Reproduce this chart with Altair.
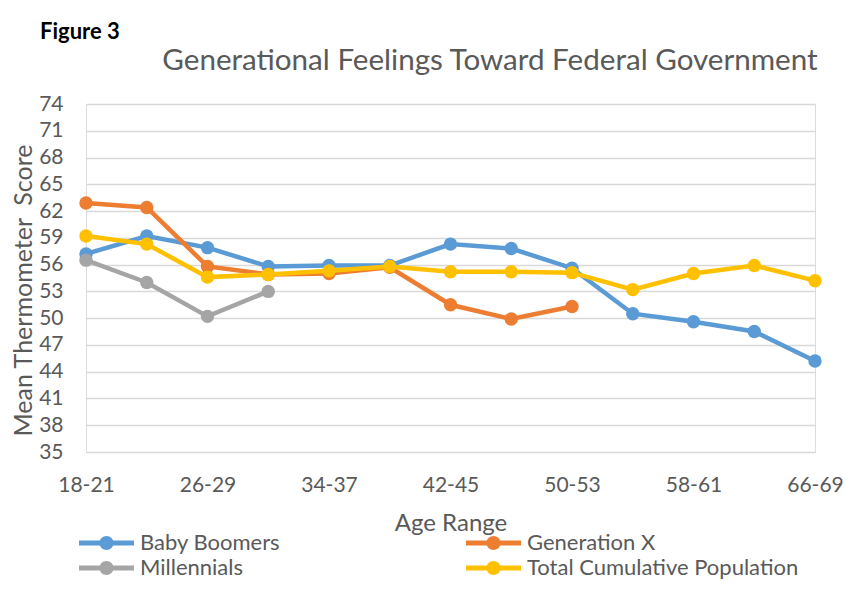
import altair as alt
import pandas as pd

age_ranges = ["18-21", "22-25", "26-29", "30-33", "34-37", "38-41", "42-45",
              "46-49", "50-53", "54-57", "58-61", "62-65", "66-69"]
baby_boomers = [57.2, 59.2, 57.9, 55.8, 55.9, 55.9, 58.3, 57.8, 55.6, 50.5, 49.6, 48.5, 45.2]
generation_x = [62.9, 62.4, 55.8, 54.9, 55.0, 55.7, 51.5, 49.9, 51.3, None, None, None, None]
millennials = [56.5, 54.0, 50.2, 53.0, None, None, None, None, None, None, None, None, None]
total_population = [59.2, 58.3, 54.6, 54.9, 55.3, 55.8, 55.2, 55.2, 55.1, 53.2, 55.0, 55.9, 54.2]

series_names = ["Baby Boomers", "Generation X", "Millennials", "Total Cumulative Population"]
series_values = [baby_boomers, generation_x, millennials, total_population]
series_colors = ["#5B9BD5", "#ED7D31", "#A5A5A5", "#FFC000"]

y_ticks = list(range(35, 75, 3))
x_tick_labels = age_ranges[::2]

FONT = "Lato"
GRAY = "#595959"

rows = []
for name, vals in zip(series_names, series_values):
    for age, v in zip(age_ranges, vals):
        if v is not None:
            rows.append({"series": name, "age": age, "score": v})
df = pd.DataFrame(rows)

x_enc = alt.X(
    "age:O", sort=age_ranges,
    scale=alt.Scale(type="point", padding=0),
    axis=alt.Axis(values=x_tick_labels, labelAngle=0, title="Age Range",
                  labelFont=FONT, labelFontSize=21, labelColor=GRAY, labelPadding=22,
                  titleFont=FONT, titleFontSize=24, titleFontWeight="normal", titleColor=GRAY,
                  titlePadding=16, ticks=False, domain=False, grid=False),
)
y_enc = alt.Y(
    "score:Q",
    scale=alt.Scale(domain=[35, 74], nice=False, zero=False),
    axis=alt.Axis(values=y_ticks, title="Mean Thermometer\u00a0 Score",
                  labelFont=FONT, labelFontSize=21, labelColor=GRAY, labelPadding=23,
                  titleFont=FONT, titleFontSize=25, titleFontWeight="normal", titleColor=GRAY,
                  titlePadding=2, titleY=186, ticks=False, domain=False,
                  grid=True, gridColor="#D9D9D9", gridWidth=1.5),
)

legend_path = ("M-5.5,-0.5L5.5,-0.5L5.5,0.5L-5.5,0.5Z "
               "M-1.4,0A1.4,1.4 0 1,1 1.4,0A1.4,1.4 0 1,1 -1.4,0Z")
color_scale = alt.Scale(domain=series_names, range=series_colors)
legend = alt.Legend(
    title=None, orient="none", legendX=9.5, legendY=428, direction="horizontal",
    columns=2, columnPadding=185, rowPadding=3, padding=0,
    symbolType=legend_path, symbolSize=100, symbolStrokeWidth=0, symbolOpacity=1,
    labelFont=FONT, labelFontSize=22, labelColor=GRAY, labelOffset=22.5, labelLimit=500,
)

layers = []
for name in series_names:
    sub = df[df["series"] == name]
    base = alt.Chart(sub)
    line = base.mark_line(strokeWidth=4.5).encode(
        x=x_enc, y=y_enc,
        color=alt.Color("series:N", scale=color_scale),
    )
    pts = base.mark_circle(size=180, opacity=1).encode(
        x=x_enc, y=y_enc,
        color=alt.Color("series:N", scale=color_scale, legend=legend),
    )
    layers += [line, pts]

note = pd.DataFrame({"label": ["Figure 3"], "title": ["Generational Feelings Toward Federal Government"]})
fig_label = alt.Chart(note).mark_text(
    align="left", baseline="alphabetic", font=FONT, fontSize=22, fontWeight="bold", color="black"
).encode(x=alt.value(-46), y=alt.value(-65), text="label:N")

title_text = alt.Chart(note).mark_text(
    align="center", baseline="alphabetic", font=FONT, fontSize=29.6, color=GRAY
).encode(x=alt.value(404), y=alt.value(-34), text="title:N")

border = alt.Chart(note).mark_rect(fill=None, stroke="#D9D9D9", strokeWidth=1.5).encode(
    x=alt.value(-82), x2=alt.value(761), y=alt.value(-97), y2=alt.value(520)
)

chart = alt.layer(border, *layers, fig_label, title_text).properties(
    width=729, height=348,
    autosize=alt.AutoSizeParams(type="none"),
    padding={"left": 78, "top": 96, "right": 30, "bottom": 129},
).configure_view(stroke=None).configure(background="white")

chart.save("out.html", embed_options={"renderer": "svg", "actions": False})
